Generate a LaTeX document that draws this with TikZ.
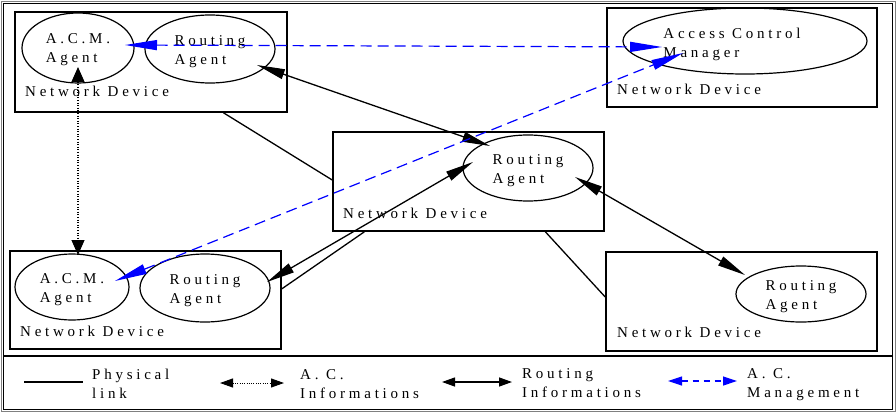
\documentclass[tikz,border=0pt]{standalone}
\usepackage{fontspec}
\setmainfont{Liberation Serif}
\newfontfamily\spfont{Liberation Serif}[LetterSpace=25]
\usetikzlibrary{arrows.meta,calc,shapes.geometric}
\begin{document}
\begin{tikzpicture}[x=1pt,y=-1pt,
  lab/.style={font=\spfont\fontsize{15}{19}\selectfont, inner sep=0pt, align=left},
  devbox/.style={draw, line width=1.6pt, inner sep=0pt},
  devlab/.style={lab, anchor=base west},
  agent/.style={ellipse, draw, line width=1.2pt, inner sep=0pt, lab, text height=30pt, text depth=0pt},
  phys/.style={line width=1.3pt},
  rout/.style={line width=1.3pt, {Triangle[length=28pt,width=10pt]}-{Triangle[length=28pt,width=10pt]}},
  acmg/.style={line width=1.2pt, draw=blue, dash pattern=on 11pt off 6pt, {Triangle[length=32pt,width=10pt,fill=blue]}-{Triangle[length=32pt,width=10pt,fill=blue]}},
  acinfo/.style={line width=1.2pt, dash pattern=on 1pt off 1.6pt, {Triangle[length=15pt,width=13pt]}-{Triangle[length=15pt,width=13pt]}},
  legrout/.style={line width=1.3pt, {Triangle[length=13pt,width=9pt]}-{Triangle[length=13pt,width=9pt]}},
  legacinfo/.style={line width=1pt, dash pattern=on 0.8pt off 1.5pt, {Triangle[length=13pt,width=9pt]}-{Triangle[length=13pt,width=9pt]}},
  legacmg/.style={line width=1.2pt, draw=blue, dash pattern=on 6pt off 5pt, {Triangle[length=14pt,width=9pt,fill=blue]}-{Triangle[length=14pt,width=9pt,fill=blue]}}
]
\useasboundingbox (0,0) rectangle (896,412);
% outer frame and legend divider
\draw[line width=0.8pt, gray] (1,1) rectangle (895,411);
\draw[line width=1.2pt] (3.5,3.5) rectangle (892.5,409.5);
\coordinate (divl) at (3,356);
\coordinate (divr) at (893,356);
\draw[line width=1.5pt] (divl) -- (divr);

% network devices
\node[devbox, minimum width=272pt, minimum height=100pt] (d1) at (151,62) {};
\node[devbox, minimum width=270pt, minimum height=99pt] (d2) at (742,57.5) {};
\node[devbox, minimum width=271pt, minimum height=99pt] (d3) at (468.5,181.5) {};
\node[devbox, minimum width=271pt, minimum height=98pt] (d4) at (145.5,300) {};
\node[devbox, minimum width=271pt, minimum height=99pt] (d5) at (741.5,301.5) {};

\node[devlab] (n1) at (25,96) {Network Device};
\node[devlab] (n2) at (617,94) {Network Device};
\node[devlab] (n3) at (343,218) {Network Device};
\node[devlab] (n4) at (20,336) {Network Device};
\node[devlab] (n5) at (617,337) {Network Device};

% agents
\node[agent, minimum width=112pt, minimum height=70pt] (e1) at (78,48) {A.C.M.\\Agent};
\node[agent, minimum width=130pt, minimum height=68pt] (e2) at (210,49) {Routing\\Agent};
\node[agent, minimum width=244pt, minimum height=66pt, text height=33pt] (e3) at (745,41) {Access Control\hspace*{26pt}\\Manager};
\node[agent, minimum width=130pt, minimum height=66pt] (e4) at (528,168) {Routing\\Agent};
\node[agent, minimum width=114pt, minimum height=66pt] (e5) at (72,287) {A.C.M.\\Agent};
\node[agent, minimum width=130pt, minimum height=68pt] (e6) at (205,288) {Routing\\Agent};
\node[agent, minimum width=130pt, minimum height=56pt] (e7) at (801,294) {Routing\\Agent};

% physical links
\draw[phys] ($(d1.south west)!0.765!(d1.south east)$) -- ($(d3.north west)!0.485!(d3.south west)$);
\draw[phys] ($(d4.north east)!0.388!(d4.south east)$) -- ($(d3.south west)!0.118!(d3.south east)$);
\draw[phys] ($(d3.south west)!0.782!(d3.south east)$) -- ($(d5.north west)!0.455!(d5.south west)$);

% routing informations
\draw[rout] ([shift={(47,16)}]e2.center) -- ([shift={(-38,-22)}]e4.center);
\draw[rout] ([shift={(62,-6)}]e6.center) -- ([shift={(-55,-6)}]e4.center);
\draw[rout] ([shift={(47,9)}]e4.center) -- ([shift={(-56,-19)}]e7.center);

% A.C. informations
\draw[acinfo] ([shift={(0,19)}]e1.center) -- ([shift={(6,-32)}]e5.center);

% A.C. management
\draw[acmg] ([shift={(47,-3)}]e1.center) -- ([shift={(-83,6)}]e3.center);
\draw[acmg] ([shift={(43,-6)}]e5.center) -- ([shift={(-62,12)}]e3.center);

% legend
\coordinate (l1a) at (24,382);
\coordinate (l1b) at (83,382);
\draw[phys] (l1a) -- (l1b);
\node[lab, anchor=base west] (t1) at (92,398) {Physical\\link};
\coordinate (l2a) at (220,383);
\coordinate (l2b) at (284,383);
\draw[legacinfo] (l2a) -- (l2b);
\node[lab, anchor=base west] (t2) at (300,398) {A. C.\\Informations};
\coordinate (l3a) at (442,382);
\coordinate (l3b) at (512,382);
\draw[legrout] (l3a) -- (l3b);
\node[lab, anchor=base west] (t3) at (522,397) {Routing\\Informations};
\coordinate (l4a) at (668,381);
\coordinate (l4b) at (737,381);
\draw[legacmg] (l4a) -- (l4b);
\node[lab, anchor=base west] (t4) at (747,397) {A. C.\\Management};
\end{tikzpicture}
\end{document}
